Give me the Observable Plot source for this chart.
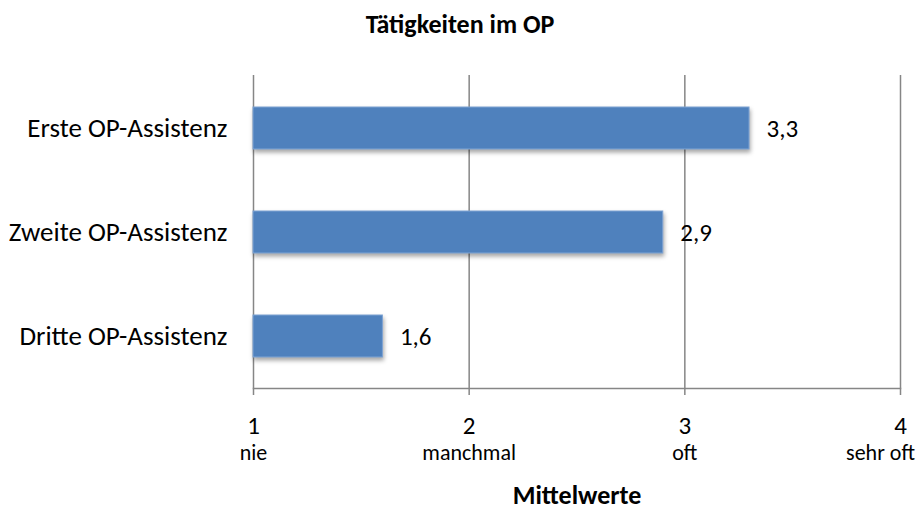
<!DOCTYPE html>
<html><head><meta charset="utf-8">
<script src="https://cdn.jsdelivr.net/npm/d3@7"></script>
<script src="https://cdn.jsdelivr.net/npm/@observablehq/plot@0.6"></script>
<style>
body{margin:0;background:#fff;font-family:Carlito,Calibri,Lato,sans-serif;color:#000;}
#title{height:50px;line-height:48px;text-align:center;font-weight:bold;font-size:26px;width:920px;}
svg{overflow:visible;}
</style></head><body>
<div id="title">Tätigkeiten im OP</div>
<div id="chart"></div>
<script>
const categories = ["Erste OP-Assistenz", "Zweite OP-Assistenz", "Dritte OP-Assistenz"];
const values = [3.3, 2.9, 1.6];
const valueLabels = ["3,3", "2,9", "1,6"];
const tickValues = [1, 2, 3, 4];
const tickWords = ["nie", "manchmal", "oft", "sehr oft"];
const xLabel = "Mittelwerte";

const data = categories.map((c, i) => ({category: c, value: values[i], label: valueLabels[i]}));
const ticks = tickValues.map((v, i) => ({v, word: tickWords[i]}));
const font = "Carlito, Calibri, Lato, sans-serif";

const plot = Plot.plot({
  width: 920,
  height: 465,
  marginTop: 25,
  marginBottom: 127,
  marginLeft: 253,
  marginRight: 20,
  style: {fontFamily: font, background: "#fff", color: "#000"},
  x: {domain: [1, 4], ticks: tickValues},
  y: {domain: categories, paddingInner: 0.6, paddingOuter: 0.3},
  marks: [
    Plot.gridX(tickValues, {stroke: "#868686", strokeOpacity: 1, strokeWidth: 1.5}),
    Plot.frame({anchor: "bottom", stroke: "#868686", strokeWidth: 1.5}),
    Plot.axisX(tickValues, {tickSize: 7, tickFormat: () => "", stroke: "#868686", strokeWidth: 1.5, label: null}),
    Plot.axisY({tickSize: 0, tickPadding: 26, fontSize: 27, label: null, fill: "#000"}),
    Plot.barX(data, {x1: 1, x2: "value", y: "category", fill: "#4F81BD", stroke: "#7FA4D4", strokeWidth: 1,
      imageFilter: "drop-shadow(1px 3px 2px rgba(0,0,0,0.35))"}),
    Plot.text(data, {x: "value", y: "category", text: "label", textAnchor: "start", dx: 17, fontSize: 25, fill: "#000"}),
    Plot.text(ticks, {x: "v", text: d => String(d.v), frameAnchor: "bottom", dy: 45, fontSize: 25, fill: "#000"}),
    Plot.text(ticks.slice(0, 3), {x: "v", text: "word", frameAnchor: "bottom", dy: 71, fontSize: 22, fill: "#000"}),
    Plot.text(ticks.slice(3), {x: "v", text: "word", frameAnchor: "bottom", dy: 71, dx: -20, fontSize: 22, fill: "#000"}),
    Plot.text([xLabel], {frameAnchor: "bottom", dy: 115, fontSize: 26, fontWeight: "bold", fill: "#000"})
  ]
});
document.getElementById("chart").appendChild(plot);
</script>
</body></html>
